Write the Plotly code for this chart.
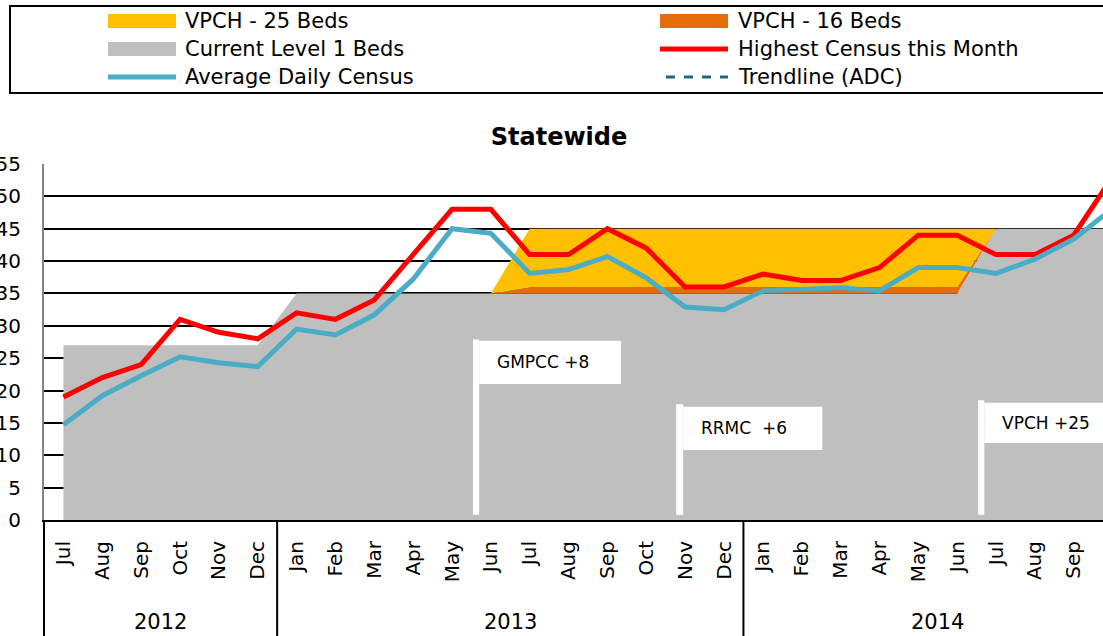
import plotly.graph_objects as go

# ---------------- data ----------------
months = ["Jul", "Aug", "Sep", "Oct", "Nov", "Dec",
          "Jan", "Feb", "Mar", "Apr", "May", "Jun", "Jul", "Aug", "Sep", "Oct", "Nov", "Dec",
          "Jan", "Feb", "Mar", "Apr", "May", "Jun", "Jul", "Aug", "Sep", "Oct"]
years = ["2012", "2012", "2012", "2012", "2012", "2012",
         "2013", "2013", "2013", "2013", "2013", "2013", "2013", "2013", "2013", "2013", "2013", "2013",
         "2014", "2014", "2014", "2014", "2014", "2014", "2014", "2014", "2014", "2014"]
year_groups = ["2012", "2013", "2014"]

highest_census = [19, 22, 24, 31, 29, 28,
                  32, 31, 34, 41, 48, 48, 41, 41, 45, 42, 36, 36,
                  38, 37, 37, 39, 44, 44, 41, 41, 44, 53]
avg_daily_census = [14.7, 19.2, 22.3, 25.2, 24.3, 23.7,
                    29.5, 28.6, 31.7, 37.2, 45.0, 44.3, 38.1, 38.7, 40.7, 37.4, 32.9, 32.5,
                    35.4, 35.6, 35.9, 35.4, 39.0, 39.0, 38.1, 40.3, 43.4, 48.1]
level1_beds = [27, 27, 27, 27, 27, 27,
               35, 35, 35, 35, 35, 35, 35, 35, 35, 35, 35, 35,
               35, 35, 35, 35, 35, 35, 45, 45, 45, 45]
vpch_16 = [0, 0, 0, 0, 0, 0,
           0, 0, 0, 0, 0, 0, 1, 1, 1, 1, 1, 1,
           1, 1, 1, 1, 1, 1, 0, 0, 0, 0]
vpch_25 = [0, 0, 0, 0, 0, 0,
           0, 0, 0, 0, 0, 0, 9, 9, 9, 9, 9, 9,
           9, 9, 9, 9, 9, 9, 0, 0, 0, 0]

legend_labels = ["VPCH - 25 Beds", "VPCH - 16 Beds", "Current Level 1 Beds",
                 "Highest Census this Month", "Average Daily Census", "Trendline (ADC)"]

# callout flags: (text, pole x0, x1, y top, box x1, box y0, y1)
callouts = [
    ("GMPCC +8", 10.54, 10.70, 27.9, 14.35, 21.0, 27.7),
    ("RRMC  +6", 15.77, 15.95, 17.9, 19.53, 10.8, 17.5),
    ("VPCH +25", 23.54, 23.70, 18.5, 28.0, 11.9, 18.1),
]

# ---------------- geometry ----------------
W, H = 1103, 636
ML, MR, MT, MB = 44, 0, 164, 116
PW, PH = W - ML - MR, H - MT - MB
FULL_PLOT_W = 1088  # plot width for all 28 categories (chart is cropped on the right)
n = len(months)
xr0 = -0.5
xr1 = -0.5 + n * PW / FULL_PLOT_W


def fx(px):
    return (px - ML) / PW


def fy(py):
    return (H - MB - py) / PH


FONT = "DejaVu Sans"
x = list(range(n))

fig = go.Figure()
fig.add_trace(go.Scatter(x=x, y=level1_beds, stackgroup="beds", mode="lines",
                         line=dict(width=0, color="#BFBFBF"), fillcolor="#BFBFBF",
                         name=legend_labels[2]))
fig.add_trace(go.Scatter(x=x, y=vpch_16, stackgroup="beds", mode="lines",
                         line=dict(width=0, color="#E46C0A"), fillcolor="#E46C0A",
                         name=legend_labels[1]))
fig.add_trace(go.Scatter(x=x, y=vpch_25, stackgroup="beds", mode="lines",
                         line=dict(width=0, color="#FFC000"), fillcolor="#FFC000",
                         name=legend_labels[0]))
fig.add_trace(go.Scatter(x=x, y=highest_census, mode="lines",
                         line=dict(width=5, color="#FF0000"), name=legend_labels[3]))
fig.add_trace(go.Scatter(x=x, y=avg_daily_census, mode="lines",
                         line=dict(width=5, color="#4BACC6"), name=legend_labels[4]))

shapes = []
annotations = []

# callout flags
for text, px0, px1, ytop, bx1, by0, by1 in callouts:
    shapes.append(dict(type="rect", xref="x", yref="y", x0=px0, x1=px1, y0=0.8, y1=ytop,
                       fillcolor="white", line=dict(width=0), layer="above"))
    shapes.append(dict(type="rect", xref="x", yref="y", x0=px1, x1=bx1, y0=by0, y1=by1,
                       fillcolor="white", line=dict(width=0), layer="above"))
    annotations.append(dict(text=text, xref="x", yref="y", x=px1 + 0.4, y=(by0 + by1) / 2,
                            xanchor="left", yanchor="middle", showarrow=False,
                            font=dict(family=FONT, size=17, color="black")))

# group dividers below the axis
bounds = [i + 0.5 for i in range(n - 1) if years[i] != years[i + 1]]
for b in bounds:
    shapes.append(dict(type="line", xref="x", yref="paper", x0=b, x1=b, y0=0, y1=-0.4,
                       line=dict(color="black", width=2)))
shapes.append(dict(type="line", xref="paper", yref="paper", x0=0, x1=0, y0=0, y1=-0.4,
                   line=dict(color="black", width=2)))

# year labels
for yr in year_groups:
    idx = [i for i, v in enumerate(years) if v == yr]
    annotations.append(dict(text=yr, xref="x", yref="paper", x=(idx[0] + idx[-1]) / 2,
                            y=fy(622), xanchor="center", yanchor="middle", showarrow=False,
                            font=dict(family=FONT, size=21, color="black")))

# legend box (manual, two columns)
shapes.append(dict(type="rect", xref="paper", yref="paper", x0=fx(10), x1=fx(1125),
                   y0=fy(93), y1=fy(6), line=dict(color="black", width=2),
                   fillcolor="rgba(0,0,0,0)"))
rows = [21, 49, 77]
col_sw = [(108, 176), (660, 728)]
col_tx = [183, 736]
items = [
    (0, 0, "rect", "#FFC000", None),
    (1, 0, "rect", "#E46C0A", None),
    (0, 1, "rect", "#BFBFBF", None),
    (1, 1, "line", "#FF0000", "solid"),
    (0, 2, "line", "#4BACC6", "solid"),
    (1, 2, "line", "#2B6374", "dash"),
]
for k, (c, r, kind, color, dash) in enumerate(items):
    sx0, sx1 = col_sw[c]
    cy = rows[r]
    if kind == "rect":
        shapes.append(dict(type="rect", xref="paper", yref="paper", x0=fx(sx0), x1=fx(sx1),
                           y0=fy(cy + 7), y1=fy(cy - 7), fillcolor=color, line=dict(width=0)))
    else:
        shapes.append(dict(type="line", xref="paper", yref="paper",
                           x0=fx(sx0 + (6 if dash == "dash" else 0)), x1=fx(sx1),
                           y0=fy(cy), y1=fy(cy),
                           line=dict(color=color, width=3 if dash == "dash" else 5, dash=dash)))
    annotations.append(dict(text=legend_labels[k], xref="paper", yref="paper",
                            x=fx(col_tx[c]), y=fy(cy), xanchor="left", yanchor="middle",
                            showarrow=False, font=dict(family=FONT, size=21, color="black")))

fig.update_layout(
    width=W, height=H,
    margin=dict(l=ML, r=MR, t=MT, b=MB, pad=0),
    template="none",
    plot_bgcolor="white", paper_bgcolor="white",
    showlegend=False,
    title=dict(text="<b>Statewide</b>", xref="container", yref="container",
               x=559 / W, y=1 - 137 / H, xanchor="center", yanchor="middle",
               font=dict(family=FONT, size=24, color="black")),
    xaxis=dict(range=[xr0, xr1], tickmode="array", tickvals=x, ticktext=months,
               tickangle=-90, tickfont=dict(family=FONT, size=20, color="black"),
               showgrid=False, zeroline=False, showline=True, linecolor="black",
               linewidth=2, ticks="", ticklabelstandoff=11, automargin=False),
    yaxis=dict(range=[0, 55], tickmode="linear", tick0=0, dtick=5,
               tickfont=dict(family=FONT, size=20, color="black"),
               showgrid=True, gridcolor="#000000", gridwidth=1.8, zeroline=False,
               showline=True, linecolor="#868686", linewidth=2, ticks="",
               ticklabelstandoff=17, automargin=False),
    shapes=shapes,
    annotations=annotations,
)

fig.write_html("out.html", config={"displayModeBar": False},
               post_script="document.body.style.margin='0';document.body.style.overflow='hidden';")
